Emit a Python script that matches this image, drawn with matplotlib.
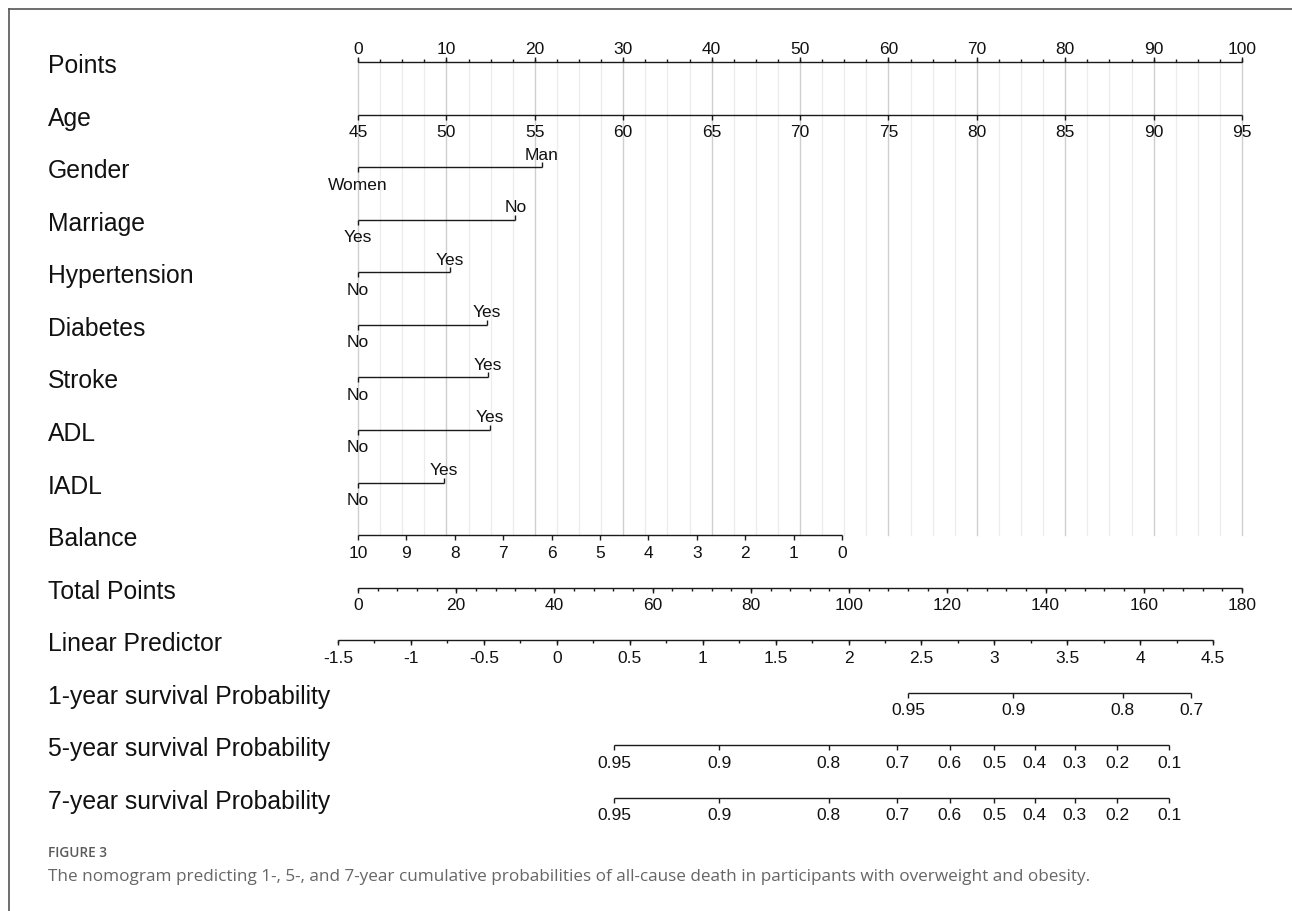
import numpy as np
import matplotlib
matplotlib.use("Agg")
import matplotlib.pyplot as plt
from matplotlib.transforms import blended_transform_factory
from matplotlib.lines import Line2D

# ------------------------------------------------------------------ data
row_labels = ["Points", "Age", "Gender", "Marriage", "Hypertension", "Diabetes",
              "Stroke", "ADL", "IADL", "Balance", "Total Points", "Linear Predictor",
              "1-year survival Probability", "5-year survival Probability",
              "7-year survival Probability"]

points_ticks = [0, 10, 20, 30, 40, 50, 60, 70, 80, 90, 100]
points_minor_step = 2.5

age_ticks = [45, 50, 55, 60, 65, 70, 75, 80, 85, 90, 95]
age_range = [45, 95]          # maps to 0..100 points

cat_names = ["Gender", "Marriage", "Hypertension", "Diabetes", "Stroke", "ADL", "IADL"]
cat_ref_levels = ["Women", "Yes", "No", "No", "No", "No", "No"]
cat_alt_levels = ["Man", "No", "Yes", "Yes", "Yes", "Yes", "Yes"]
cat_alt_points = [20.8, 17.8, 10.4, 14.6, 14.7, 14.9, 9.7]

balance_ticks = [10, 9, 8, 7, 6, 5, 4, 3, 2, 1, 0]
balance_points_at_zero = 54.75  # balance 10 -> 0 points

total_ticks = [0, 20, 40, 60, 80, 100, 120, 140, 160, 180]
total_minor_step = 4
total_max = 180

lp_ticks = [-1.5, -1, -0.5, 0, 0.5, 1, 1.5, 2, 2.5, 3, 3.5, 4, 4.5]
lp_minor_step = 0.25
lp_total_intercept = 40.48    # total points at linear predictor 0
lp_total_slope = 29.70        # total points per unit of linear predictor

surv_rows = ["1-year", "5-year", "7-year"]
surv_ticks = [[0.95, 0.9, 0.8, 0.7],
              [0.95, 0.9, 0.8, 0.7, 0.6, 0.5, 0.4, 0.3, 0.2, 0.1],
              [0.95, 0.9, 0.8, 0.7, 0.6, 0.5, 0.4, 0.3, 0.2, 0.1]]
surv_log_cumhaz = [-5.38, -3.365, -3.365]   # log(-log S0(t))

caption_title = "FIGURE 3"
caption_text = ("The nomogram predicting 1-, 5-, and 7-year cumulative probabilities of "
                "all-cause death in participants with overweight and obesity.")

# ------------------------------------------------------------------ scales
def age_pts(a):
    return (np.asarray(a, float) - age_range[0]) / (age_range[1] - age_range[0]) * 100

def balance_pts(b):
    return (10 - np.asarray(b, float)) / 10 * balance_points_at_zero

def total_pts(t):
    return np.asarray(t, float) * 100 / total_max

def lp_pts(lp):
    return total_pts(lp_total_intercept + lp_total_slope * np.asarray(lp, float))

def surv_pts(p, c):
    lp = np.log(-np.log(np.asarray(p, float))) - c
    return lp_pts(lp)

def fmt(v):
    return f"{v:g}"

# ------------------------------------------------------------------ figure
W, H = 1292, 912
fig = plt.figure(figsize=(W / 100, H / 100), dpi=100)
ax = fig.add_axes([0, 0, 1, 1])
ax.set_axis_off()

x0_px, x100_px = 358, 1242
ppu = (x100_px - x0_px) / 100.0
row0_px, row14_px = 63, 799
ppr = (row14_px - row0_px) / 14.0
ax.set_xlim(-x0_px / ppu, (W - x0_px) / ppu)
ax.set_ylim(14 + (H - row14_px) / ppr, -row0_px / ppr)

FONT = ["Liberation Sans", "DejaVu Sans"]
LC = "#1a1a1a"
LW = 1.0
TICK = 5 / ppr
MINOR = 3 / ppr
TFS = 12.5

def px(v):
    return v / ppr

def draw_line(row, xa, xb):
    ax.plot([xa, xb], [row, row], color=LC, lw=LW, solid_capstyle="butt", zorder=3)

def draw_ticks(row, xs, length, direction):
    for x in xs:
        ax.plot([x, x], [row, row + direction * length], color=LC, lw=LW,
                solid_capstyle="butt", zorder=3)

def draw_labels(row, xs, labels, direction):
    for x, lab in zip(xs, labels):
        if direction > 0:
            ax.text(x, row + px(9.5), lab, ha="center", va="top", fontsize=TFS,
                    family=FONT, color="#111111")
        else:
            ax.text(x, row - px(5.5), lab, ha="center", va="bottom", fontsize=TFS,
                    family=FONT, color="#111111")

# grid lines (points rows)
grid_vals = np.arange(0, 100 + 1e-9, points_minor_step)
for g in grid_vals:
    major = abs(g / 10 - round(g / 10)) < 1e-9
    ax.plot([g, g], [0, 9], color="#cfcfcf" if major else "#ececec",
            lw=1.0 if major else 0.9, zorder=1)

# row labels
tr = blended_transform_factory(fig.transFigure, ax.transData)
for i, lab in enumerate(row_labels):
    ax.text(48 / W, i + px(3), lab, transform=tr, ha="left", va="center",
            fontsize=17.8, family=FONT, color="#111111")

# Points
xs = np.array(points_ticks, float)
draw_line(0, xs.min(), xs.max())
draw_ticks(0, np.arange(0, 100 + 1e-9, points_minor_step), MINOR, -1)
draw_ticks(0, xs, TICK, -1)
draw_labels(0, xs, [fmt(v) for v in points_ticks], -1)

# Age
xs = age_pts(age_ticks)
draw_line(1, xs.min(), xs.max())
draw_ticks(1, xs, TICK, 1)
draw_labels(1, xs, [fmt(v) for v in age_ticks], 1)

# categorical rows
for k, (ref, alt, p) in enumerate(zip(cat_ref_levels, cat_alt_levels, cat_alt_points)):
    row = 2 + k
    draw_line(row, 0, p)
    draw_ticks(row, [0], TICK, 1)
    draw_ticks(row, [p], TICK, -1)
    draw_labels(row, [0], [ref], 1)
    draw_labels(row, [p], [alt], -1)

# Balance
xs = balance_pts(balance_ticks)
draw_line(9, xs.min(), xs.max())
draw_ticks(9, xs, TICK, 1)
draw_labels(9, xs, [fmt(v) for v in balance_ticks], 1)

# Total points
xs = total_pts(total_ticks)
draw_line(10, xs.min(), xs.max())
draw_ticks(10, total_pts(np.arange(0, total_max + 1e-9, total_minor_step)), MINOR, 1)
draw_ticks(10, xs, TICK, 1)
draw_labels(10, xs, [fmt(v) for v in total_ticks], 1)

# Linear predictor
xs = lp_pts(lp_ticks)
draw_line(11, xs.min(), xs.max())
draw_ticks(11, lp_pts(np.arange(lp_ticks[0], lp_ticks[-1] + 1e-9, lp_minor_step)), MINOR, 1)
draw_ticks(11, xs, TICK, 1)
draw_labels(11, xs, [fmt(v) for v in lp_ticks], 1)

# survival probability rows
for k, (ticks, c) in enumerate(zip(surv_ticks, surv_log_cumhaz)):
    row = 12 + k
    xs = surv_pts(ticks, c)
    draw_line(row, xs.min(), xs.max())
    draw_ticks(row, xs, TICK, 1)
    draw_labels(row, xs, [fmt(v) for v in ticks], 1)

# caption
fig.text(48 / W, 1 - 853 / H, caption_title, ha="left", va="center", fontsize=9.8,
         family=["Open Sans", "DejaVu Sans"], fontweight="semibold", color="#5a5a5a")
fig.text(48 / W, 1 - 877 / H, caption_text, ha="left", va="center", fontsize=12.35,
         family=["Open Sans", "DejaVu Sans"], color="#666666")

# frame (top and left edges)
fig.add_artist(Line2D([9 / W, 9 / W], [0, 1 - 10 / H], transform=fig.transFigure,
                      color="#555555", lw=1.2))
fig.add_artist(Line2D([9 / W, 1], [1 - 10 / H, 1 - 10 / H], transform=fig.transFigure,
                      color="#555555", lw=1.2))

fig.savefig("out.png", dpi=100)
